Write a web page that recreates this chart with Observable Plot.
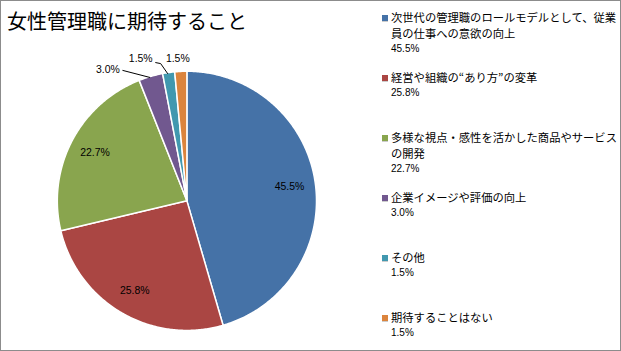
<!DOCTYPE html>
<html><head><meta charset="utf-8">
<script src="https://cdn.jsdelivr.net/npm/d3@7"></script>
<script src="https://cdn.jsdelivr.net/npm/@observablehq/plot@0.6"></script>
<style>
html,body{margin:0;padding:0;background:#fff;}
#frame{position:relative;width:621px;height:351px;box-sizing:border-box;border:1px solid #8c8c8c;overflow:hidden;background:#fff;}
#title{position:absolute;left:6px;top:7px;font-family:"Noto Sans CJK JP";font-size:20px;line-height:26px;color:#000;white-space:nowrap;}
#chart{position:absolute;left:0;top:0;}
#legend{position:absolute;left:381px;top:8px;width:236px;}
.item{height:60px;display:flex;align-items:flex-start;}
.sw{width:6px;height:6px;margin-top:6px;margin-right:3px;flex:none;border-bottom:1px solid #ccc;}
.txt{width:228px;font-family:"Noto Sans CJK JP";font-size:11.3px;line-height:16px;color:#000;}
.pct{font-family:"Liberation Sans";font-size:10px;line-height:15px;color:#000;}
</style></head>
<body><div id="frame"><div id="chart"></div><div id="title">女性管理職に期待すること</div><div id="legend"></div></div>
<script>
const categories = [
  "次世代の管理職のロールモデルとして、従業員の仕事への意欲の向上",
  "経営や組織の“あり方”の変革",
  "多様な視点・感性を活かした商品やサービスの開発",
  "企業イメージや評価の向上",
  "その他",
  "期待することはない"
];
const values = [45.5, 25.8, 22.7, 3.0, 1.5, 1.5];
const valueLabels = ["45.5%", "25.8%", "22.7%", "3.0%", "1.5%", "1.5%"];
const colors = ["#4572A7", "#AA4643", "#89A54E", "#71588F", "#4198AF", "#DB843D"];

// layout (pixels): pie radius and outside label offsets
const R = 130;
const outsideOffsets = {3: [-43, -7], 4: [-28, -14], 5: [-3, -13]};
const leaderStarts = {3: [-28, -6], 4: [-13, -10]};

const arcs = d3.pie().sort(null).value(d => d)(values);
const pt = (a, r) => ({x: r * Math.sin(a), y: r * Math.cos(a)});

const slices = [];
arcs.forEach((a, i) => {
  slices.push({cat: categories[i], ...pt(0, 0)});
  const n = Math.max(2, Math.ceil((a.endAngle - a.startAngle) / 0.01));
  for (let k = 0; k <= n; k++) {
    const t = a.startAngle + (a.endAngle - a.startAngle) * k / n;
    slices.push({cat: categories[i], ...pt(t, 1)});
  }
  slices.push({cat: categories[i], ...pt(0, 0)});
});

const inside = [], outside = [], leaders = [];
arcs.forEach((a, i) => {
  const mid = (a.startAngle + a.endAngle) / 2;
  if (values[i] >= 10) {
    inside.push({label: valueLabels[i], ...pt(mid, 0.8)});
  } else {
    const e = pt(mid, 1);
    const o = outsideOffsets[i];
    outside.push({label: valueLabels[i], x: e.x + o[0] / R, y: e.y - o[1] / R});
    if (leaderStarts[i]) {
      const s = leaderStarts[i];
      leaders.push({id: i, x: e.x + s[0] / R, y: e.y - s[1] / R});
      if (i === 4) leaders.push({id: i, x: e.x - 8 / R, y: e.y + 9 / R});
      leaders.push({id: i, x: e.x - 1 / R, y: e.y - 1 / R});
    }
  }
});

const chart = Plot.plot({
  width: 621, height: 351, margin: 0,
  x: {domain: [-1, 1], range: [56, 316], axis: null},
  y: {domain: [-1, 1], range: [330, 70], axis: null},
  color: {domain: categories, range: colors},
  style: {background: "transparent"},
  marks: [
    Plot.line(slices, {x: "x", y: "y", z: "cat", fill: "cat", stroke: "white", strokeWidth: 1.5, curve: "linear"}),
    Plot.line(leaders, {x: "x", y: "y", z: "id", stroke: "#000", strokeWidth: 1}),
    Plot.text(inside, {x: "x", y: "y", text: "label", fontFamily: "Liberation Sans", fontSize: 10.5, fill: "#000"}),
    Plot.text(outside, {x: "x", y: "y", text: "label", fontFamily: "Liberation Sans", fontSize: 10.5, fill: "#000"})
  ]
});
document.getElementById("chart").appendChild(chart);

const legend = document.getElementById("legend");
categories.forEach((c, i) => {
  const item = document.createElement("div");
  item.className = "item";
  item.innerHTML = `<div class="sw" style="background:${colors[i]}"></div><div class="txt">${c}<div class="pct">${valueLabels[i]}</div></div>`;
  legend.appendChild(item);
});
</script></body></html>
